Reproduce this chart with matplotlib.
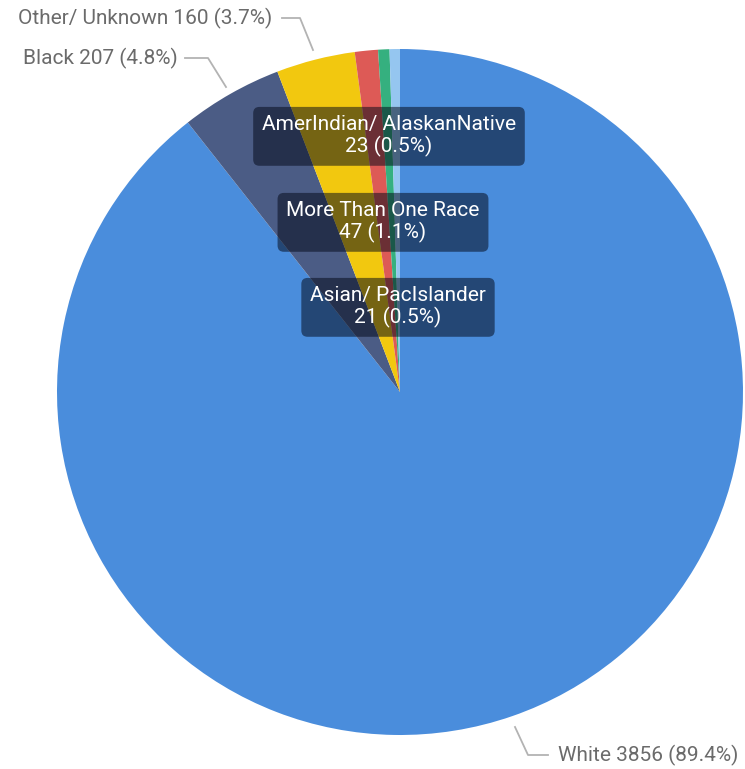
import matplotlib
matplotlib.use("Agg")
import matplotlib.pyplot as plt

# DATA
races = ["White", "Black", "Other/ Unknown", "More Than One Race",
         "AmerIndian/ AlaskanNative", "Asian/ PacIslander"]
counts = [3856, 207, 160, 47, 23, 21]
colors = ["#4A8DDC", "#4B5C85", "#F2C80F", "#DD5A56", "#35B07F", "#95C6F0"]

plt.rcParams['font.family'] = ['Roboto', 'DejaVu Sans']

W, H = 745, 769
fig = plt.figure(figsize=(W / 100, H / 100), dpi=100)
ax = fig.add_axes([0, 0, 1, 1])

cx, cy, r = 400, H - 392, 343
ax.pie(counts, colors=colors, startangle=90, counterclock=False,
       center=(cx, cy), radius=r, frame=True,
       wedgeprops=dict(linewidth=0))
ax.set_xlim(0, W)
ax.set_ylim(0, H)
ax.axis('off')

total = sum(counts)
def pct(v):
    return "%.1f%%" % (100.0 * v / total)

fs = 15
# outside labels with leader lines (pixel coords, y from top)
grey = "#6b6b6b"
lc = "#b3b3b3"
outside = {
    "Other/ Unknown": ((272, 18), [(282, 18), (300, 18), (313, 50)]),
    "Black": ((178, 58), [(185, 58), (208, 58), (226, 87)]),
}
for name, (tpos, line) in outside.items():
    i = races.index(name)
    xs = [p[0] for p in line]
    ys = [H - p[1] for p in line]
    ax.plot(xs, ys, color=lc, lw=1.3)
    ax.text(tpos[0], H - tpos[1], "%s %d (%s)" % (name, counts[i], pct(counts[i])),
            ha='right', va='center', fontsize=fs, color=grey)

i = races.index("White")
ax.plot([548, 528, 515], [H - 755, H - 755, H - 727], color=lc, lw=1.3)
ax.text(558, H - 755, "%s %d (%s)" % (races[i], counts[i], pct(counts[i])),
        ha='left', va='center', fontsize=fs, color=grey)

# inside labels with dark boxes
inside = {
    "AmerIndian/ AlaskanNative": (389, 136),
    "More Than One Race": (383, 222),
    "Asian/ PacIslander": (398, 307),
}
for name, (x, y) in inside.items():
    i = races.index(name)
    ax.text(x, H - y, "%s\n%d (%s)" % (name, counts[i], pct(counts[i])),
            ha='center', va='center', fontsize=fs, color='white',
            linespacing=1.12,
            bbox=dict(boxstyle='round,pad=0.42,rounding_size=0.3',
                      facecolor='#020818', alpha=0.52, edgecolor='none'))

fig.savefig("out.png", dpi=100)
